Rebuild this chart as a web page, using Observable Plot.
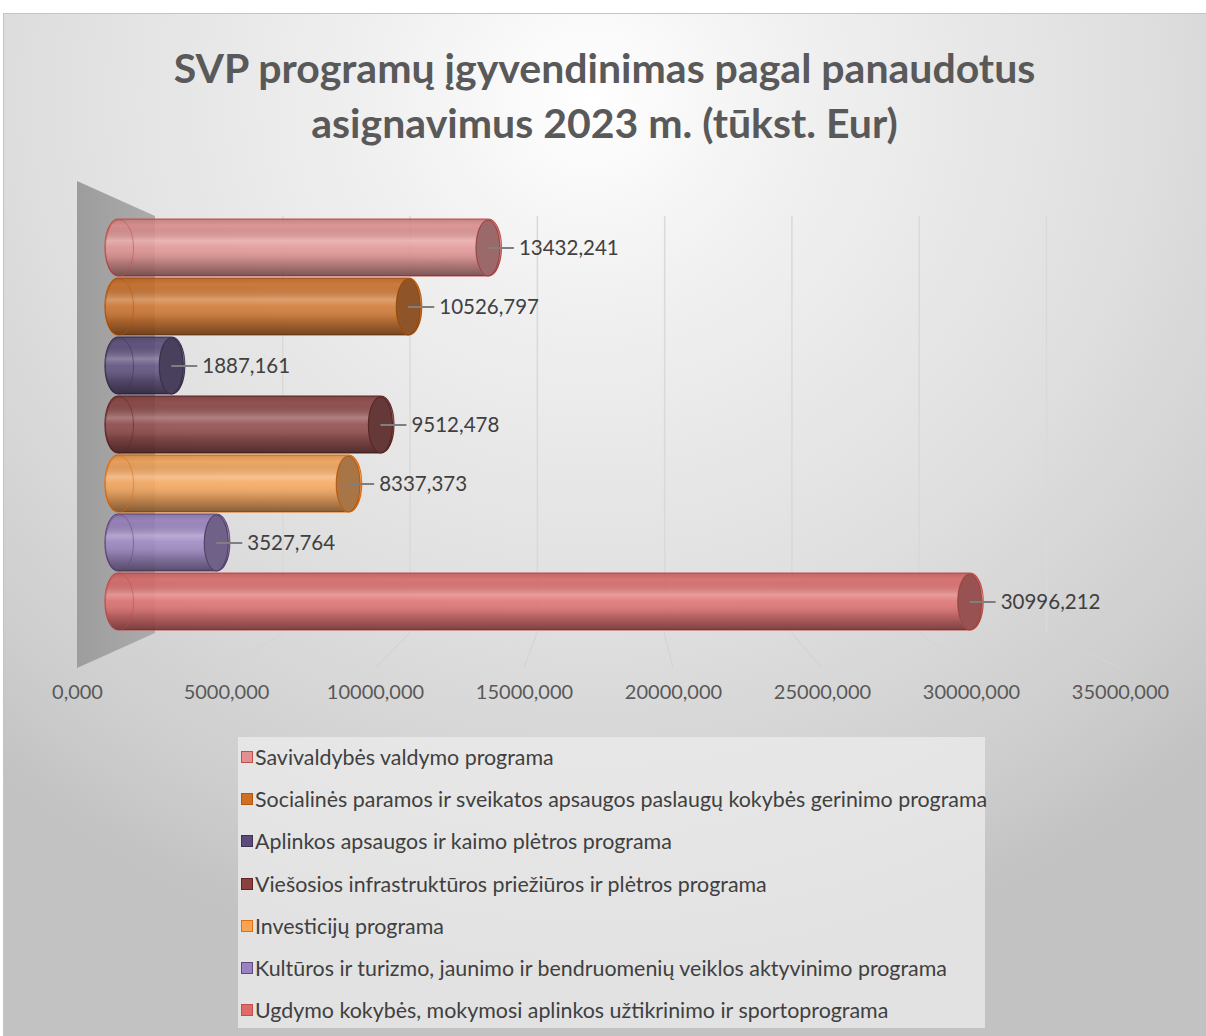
<!DOCTYPE html>
<html>
<head>
<meta charset="utf-8">
<script src="https://cdn.jsdelivr.net/npm/d3@7"></script>
<script src="https://cdn.jsdelivr.net/npm/@observablehq/plot@0.6"></script>
<style>
  body { margin: 0; background: #ffffff; font-family: Lato, "Open Sans", sans-serif; }
  #chart { position: relative; width: 1206px; height: 1036px; overflow: hidden; }
  #bg { position: absolute; left: 3px; top: 13px; width: 1220px; height: 1040px;
        border: 1px solid #c4c4c4;
        background: radial-gradient(ellipse 75% 85% at 48% 8%, #ffffff 0%, #f1f1f1 22%, #e0e0e0 58%, #cdcdcd 88%, #c2c2c2 100%); }
  #title { position: absolute; left: 3px; width: 1203px; top: 40px; text-align: center;
           font: bold 41px/55px Lato, sans-serif; color: #595959; }
  #plot { position: absolute; left: 0; top: 160px; }
  #legend { position: absolute; left: 238px; top: 737px; width: 747px; height: 291px;
            background: rgba(236,236,236,0.75); }
  .item { position: absolute; left: 3px; height: 24px; display: flex; align-items: center;
          font-size: 21.4px; color: #404040; white-space: nowrap; }
  .sw { width: 10px; height: 10px; border: 1px solid; margin-right: 2px; flex: none; }
</style>
</head>
<body>
<div id="chart">
  <div id="bg"></div>
  <div id="title">SVP programų įgyvendinimas pagal panaudotus<br>asignavimus 2023 m. (tūkst. Eur)</div>
  <div id="plot"></div>
  <div id="legend"></div>
</div>
<script>
// ---- data ----
const programs = [
  "Savivaldybės valdymo programa",
  "Socialinės paramos ir sveikatos apsaugos paslaugų kokybės gerinimo programa",
  "Aplinkos apsaugos ir kaimo plėtros programa",
  "Viešosios infrastruktūros priežiūros ir plėtros programa",
  "Investicijų programa",
  "Kultūros ir turizmo, jaunimo ir bendruomenių veiklos aktyvinimo programa",
  "Ugdymo kokybės, mokymosi aplinkos užtikrinimo ir sportoprograma"
];
const amounts = [13432.241, 10526.797, 1887.161, 9512.478, 8337.373, 3527.764, 30996.212];
const fills   = ["#e38f8f", "#cf6f26", "#5b4b7c", "#8a4040", "#f8a455", "#9a82c2", "#e06a6a"];
const strokes = ["#c0504d", "#b65708", "#3f3151", "#632523", "#e46c0a", "#604a7b", "#c0504d"];
const xTicks  = [0, 5000, 10000, 15000, 20000, 25000, 30000, 35000];

// ---- helpers ----
const data = programs.map((name, i) => ({name, value: amounts[i], fill: fills[i], stroke: strokes[i]}));
const fmt = d3.formatLocale({decimal: ",", thousands: " ", grouping: [3], currency: ["", "€"]}).format(".3f");

// perspective planes (pixel ranges of the x scale in the bar plane, the front floor edge and the back wall)
const BAR = [119, 1079], FRONT = [77, 1120], BACK = [155, 1046], DEPTH = 35;
const proj = P => px => P[0] + (px - BAR[0]) * (P[1] - P[0]) / (BAR[1] - BAR[0]);
const toFront = proj(FRONT), toBack = proj(BACK);
const remapX = f => (index, scales, values, dimensions, context, next) =>
  next(index, scales, {...values, x: Float64Array.from(values.x, f)}, dimensions, context);

function ellipse(rx, ry) {
  const k = 0.5523;
  return {draw(c) {
    c.moveTo(rx, 0);
    c.bezierCurveTo(rx, ry * k, rx * k, ry, 0, ry);
    c.bezierCurveTo(-rx * k, ry, -rx, ry * k, -rx, 0);
    c.bezierCurveTo(-rx, -ry * k, -rx * k, -ry, 0, -ry);
    c.bezierCurveTo(rx * k, -ry, rx, -ry * k, rx, 0);
    c.closePath();
  }};
}
const leader = {draw(c) { c.moveTo(0, 0); c.lineTo(26, 0); }};

const defs = () => {
  const d = d3.create("svg:defs");
  const g = d.append("linearGradient").attr("id", "cyl").attr("x1", 0).attr("y1", 0).attr("x2", 0).attr("y2", 1);
  [[0, "#000", 0.14], [0.12, "#000", 0.03], [0.38, "#fff", 0.26], [0.5, "#fff", 0.06], [0.75, "#000", 0.17], [1, "#000", 0.45]]
    .forEach(([o, c, a]) => g.append("stop").attr("offset", o).attr("stop-color", c).attr("stop-opacity", a));
  const w = d.append("linearGradient").attr("id", "wall").attr("x1", 0).attr("y1", 0).attr("x2", 1).attr("y2", 0);
  w.append("stop").attr("offset", 0).attr("stop-color", "#9d9d9d");
  w.append("stop").attr("offset", 1).attr("stop-color", "#ababab");
  return d.node();
};

const wall = (index, scales, values, dims) => {
  const x0 = scales.x(0), bf = toFront(x0), bb = toBack(x0);
  const top = dims.marginTop, bot = dims.height - dims.marginBottom;
  return d3.create("svg:polygon")
    .attr("points", [[bf, top - DEPTH], [bb, top], [bb, bot], [bf, bot + DEPTH]].join(" "))
    .attr("fill", "url(#wall)").node();
};

const floor = (index, scales, values, dims) => {
  const bot = dims.height - dims.marginBottom;
  const g = d3.create("svg:g").attr("stroke", "#d4d4d4").attr("stroke-width", 1.2);
  xTicks.slice(1).forEach(t => {
    const px = scales.x(t);
    g.append("line").attr("x1", toBack(px)).attr("y1", bot).attr("x2", toFront(px)).attr("y2", bot + DEPTH);
  });
  return g.node();
};

const plot = Plot.plot({
  width: 1206,
  height: 560,
  marginLeft: BAR[0],
  marginRight: 1206 - BAR[1],
  marginTop: 56,
  marginBottom: 87,
  style: {background: "transparent", fontFamily: "Lato, sans-serif", overflow: "visible"},
  x: {domain: [0, 35000], axis: null},
  y: {domain: programs, axis: null, padding: 0},
  color: {type: "identity"},
  marks: [
    defs,
    wall,
    Plot.ruleX(xTicks.slice(1), {x: d => d, stroke: "#d9d9d9", strokeWidth: 1.5, render: remapX(toBack)}),
    floor,
    Plot.barX(data, {x: "value", y: "name", fill: "fill", fillOpacity: 0.88, stroke: "stroke", strokeWidth: 1.2,
      insetLeft: -14, insetRight: -14, insetTop: 1, insetBottom: 1, rx: 13, ry: 28}),
    Plot.barX(data, {x: "value", y: "name", fill: "url(#cyl)",
      insetLeft: -14, insetRight: -14, insetTop: 1, insetBottom: 1, rx: 13, ry: 28}),
    Plot.dot(data, {x: () => 0, y: "name", symbol: ellipse(14, 28), fill: "none", stroke: "stroke", strokeOpacity: 0.55, strokeWidth: 1}),
    Plot.dot(data, {x: "value", y: "name", symbol: ellipse(12, 28), fill: "fill", stroke: "stroke", strokeWidth: 1.2}),
    Plot.dot(data, {x: "value", y: "name", symbol: ellipse(12, 28), fill: "#303030", fillOpacity: 0.4, stroke: "none"}),
    Plot.dot(data, {x: "value", y: "name", symbol: leader, fill: "none", stroke: "#7f7f7f", strokeWidth: 2}),
    Plot.text(data, {x: "value", y: "name", text: d => fmt(d.value), textAnchor: "start", dx: 31,
      fill: "#404040", fontSize: 20.5}),
    Plot.text(xTicks, {x: d => d, text: d => fmt(d), frameAnchor: "bottom", dy: 65, textAnchor: "middle",
      fill: "#595959", fontSize: 20, render: remapX(toFront)})
  ]
});
document.getElementById("plot").appendChild(plot);

// ---- legend ----
const legend = d3.select("#legend");
programs.forEach((name, i) => {
  const it = legend.append("div").attr("class", "item").style("top", (8 + i * 42.2) + "px");
  it.append("div").attr("class", "sw").style("background", fills[i]).style("border-color", strokes[i]);
  it.append("span").text(name);
});
</script>
</body>
</html>
